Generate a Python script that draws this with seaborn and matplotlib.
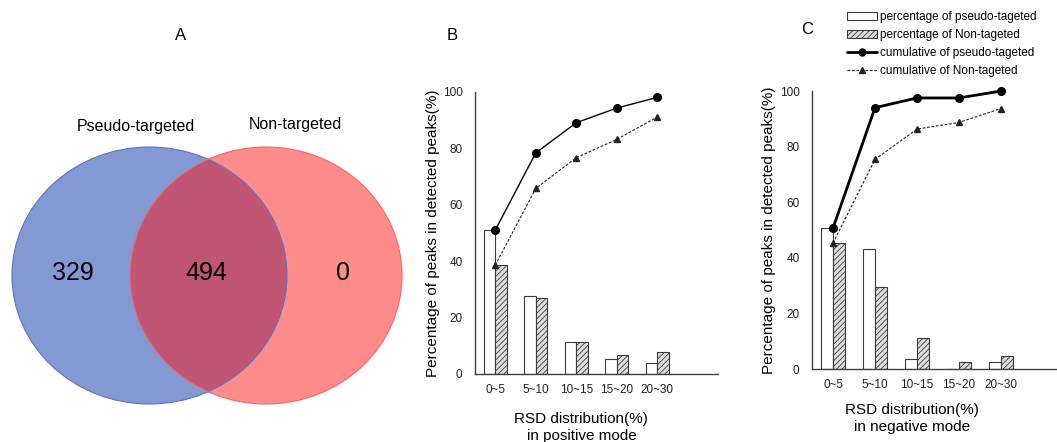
import numpy as np
import pandas as pd
import matplotlib
matplotlib.use("Agg")
import matplotlib.pyplot as plt
from matplotlib.patches import Ellipse, Patch
from matplotlib.lines import Line2D
import seaborn as sns

# ---------------- data ----------------
venn_labels = ["Pseudo-targeted", "Non-targeted"]
venn_counts = [329, 494, 0]   # only pseudo, both, only non

rsd_ranges = ["0~5", "5~10", "10~15", "15~20", "20~30"]

pos_pct_pseudo = [51.0, 27.6, 11.2, 5.2, 4.0]
pos_pct_non = [38.8, 27.0, 11.2, 6.7, 7.9]
pos_cum_pseudo = [51.0, 78.4, 89.1, 94.3, 98.1]
pos_cum_non = [38.6, 65.8, 76.7, 83.2, 91.1]

neg_pct_pseudo = [50.7, 43.1, 3.7, 0.0, 2.5]
neg_pct_non = [45.5, 29.5, 11.0, 2.4, 4.8]
neg_cum_pseudo = [50.7, 94.0, 97.5, 97.5, 100.0]
neg_cum_non = [45.3, 75.4, 86.3, 88.7, 93.7]

series_names = ["percentage of pseudo-tageted", "percentage of Non-tageted",
                "cumulative of pseudo-tageted", "cumulative of Non-tageted"]

# ---------------- style ----------------
sns.set_theme(style="white")
plt.rcParams["font.family"] = ["Liberation Sans", "DejaVu Sans"]
plt.rcParams["hatch.linewidth"] = 0.6
plt.rcParams["text.color"] = "black"
plt.rcParams["axes.labelcolor"] = "black"

W, H = 1057, 442
fig = plt.figure(figsize=(W / 100, H / 100), dpi=100)

# ---------------- Venn (A) ----------------
axv = fig.add_axes([0, 0, 410 / W, 1])
axv.set_xlim(0, 410)
axv.set_ylim(H, 0)
axv.axis("off")
blue = Ellipse((149.5, 275.5), 275, 257, facecolor="#8399d4", edgecolor="none")
red = Ellipse((266, 275.5), 272, 257, facecolor="#ff8b8b", edgecolor="none")
over = Ellipse((266, 275.5), 272, 257, facecolor="#c05673", edgecolor="none")
axv.add_patch(blue)
axv.add_patch(red)
axv.add_patch(over)
over.set_clip_path(blue)
axv.add_patch(Ellipse((149.5, 275.5), 275, 257, facecolor="none",
                      edgecolor="#5b74c4", lw=0.8, clip_on=False))
axv.add_patch(Ellipse((266, 275.5), 272, 257, facecolor="none",
                      edgecolor="#ee6a6a", lw=0.8, clip_on=False))
red.set_clip_on(False)
axv.text(73, 273, str(venn_counts[0]), fontsize=18, ha="center", va="center")
axv.text(206, 273, str(venn_counts[1]), fontsize=18, ha="center", va="center")
axv.text(343, 273, str(venn_counts[2]), fontsize=18, ha="center", va="center")
axv.text(136, 126, venn_labels[0], fontsize=11.5, ha="center", va="center")
axv.text(295, 124, venn_labels[1], fontsize=11.5, ha="center", va="center")
axv.text(181, 35, "A", fontsize=12, ha="center", va="center")


def panel(rect, pct_p, pct_n, cum_p, cum_n, lw_p, xmax, mode, xlab_xy, ylab_x):
    ax = fig.add_axes(rect)
    df = pd.DataFrame({
        "range": rsd_ranges * 2,
        "value": pct_p + pct_n,
        "series": [series_names[0]] * len(rsd_ranges) + [series_names[1]] * len(rsd_ranges),
    })
    sns.barplot(data=df, x="range", y="value", hue="series",
                hue_order=series_names[:2], palette=["white", "#dedede"],
                edgecolor="#3a3a3a", linewidth=0.8, width=0.58, saturation=1,
                legend=False, ax=ax)
    for bar in ax.containers[1]:
        bar.set_hatch("//////")
    xs = np.arange(len(rsd_ranges))
    ax.plot(xs, cum_p, color="black", lw=lw_p, marker="o", ms=5.5, clip_on=False, zorder=5)
    ax.plot(xs, cum_n, color="#222222", lw=0.8, ls=(0, (2.5, 1.5)), marker="^", ms=5,
            clip_on=False, zorder=5)
    ax.set_xlim(-0.5, xmax)
    ax.set_ylim(0, 100)
    ax.set_yticks([0, 20, 40, 60, 80, 100])
    ax.tick_params(axis="both", length=0, labelsize=8.5, colors="#222222")
    ax.tick_params(axis="y", pad=9)
    ax.tick_params(axis="x", pad=7)
    for s in ["top", "right"]:
        ax.spines[s].set_visible(False)
    for s in ["left", "bottom"]:
        ax.spines[s].set_color("#404040")
        ax.spines[s].set_linewidth(1.0)
    ax.set_ylabel("Percentage of peaks in detected peaks(%)", fontsize=11)
    ax.yaxis.set_label_coords(ylab_x, 0.5)
    ax.set_xlabel("RSD distribution(%)\nin " + mode + " mode", fontsize=11,
                  linespacing=1.25)
    ax.xaxis.set_label_coords(*xlab_xy)
    ax.xaxis.label.set_va("top")
    return ax


axB = panel([475 / W, 1 - 374 / H, 243 / W, 282 / H],
            pos_pct_pseudo, pos_pct_non, pos_cum_pseudo, pos_cum_non,
            1.0, 5.5, "positive", (0.438, -0.135), -0.144)
axC = panel([812 / W, 1 - 369 / H, 245 / W, 278 / H],
            neg_pct_pseudo, neg_pct_non, neg_cum_pseudo, neg_cum_non,
            2.0, 5.33, "negative", (0.408, -0.122), -0.147)

fig.text(452 / W, 1 - 35 / H, "B", fontsize=12, ha="center", va="center")
fig.text(807 / W, 1 - 30 / H, "C", fontsize=12, ha="center", va="center")

handles = [
    Patch(facecolor="white", edgecolor="#3a3a3a", lw=0.8),
    Patch(facecolor="#dedede", edgecolor="#3a3a3a", lw=0.8, hatch="//////"),
    Line2D([], [], color="black", lw=2.0, marker="o", ms=5),
    Line2D([], [], color="#222222", lw=0.8, ls=(0, (2.5, 1.5)), marker="^", ms=4),
]
fig.legend(handles, series_names, loc="upper left",
           bbox_to_anchor=(847 / W, 1 - 11 / H), frameon=False, fontsize=8.5,
           handlelength=2.5, handleheight=0.7, handletextpad=0.3,
           labelspacing=0.52, borderaxespad=0, borderpad=0, numpoints=1)

fig.savefig("out.png", dpi=100)
